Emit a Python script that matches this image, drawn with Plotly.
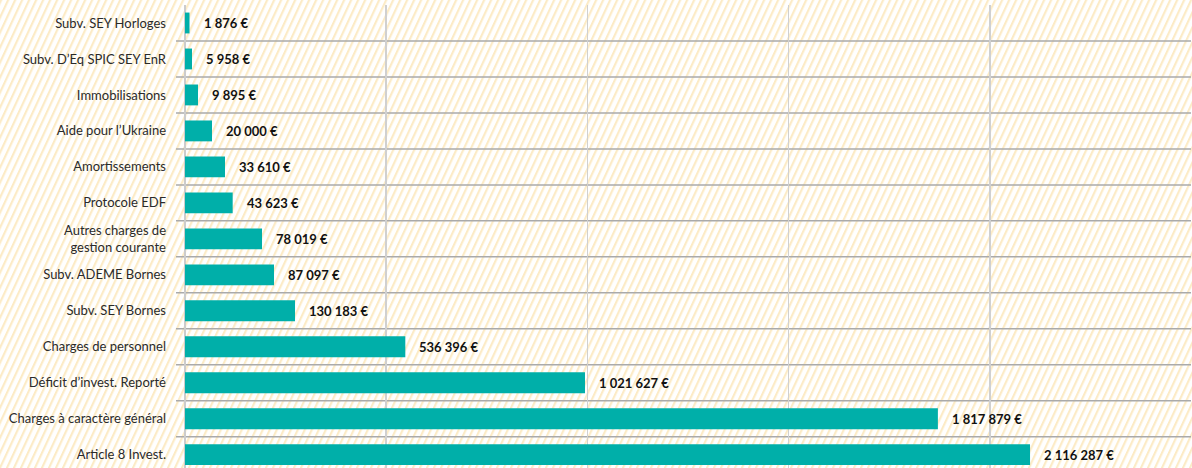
import base64
import plotly.graph_objects as go

# ---- data (top row first) ----
categories = [
    "Subv. SEY Horloges",
    "Subv. D’Eq SPIC SEY EnR",
    "Immobilisations",
    "Aide pour l’Ukraine",
    "Amortissements",
    "Protocole EDF",
    "Autres charges de<br>gestion courante",
    "Subv. ADEME Bornes",
    "Subv. SEY Bornes",
    "Charges de personnel",
    "Déficit d’invest. Reporté",
    "Charges à caractère général",
    "Article 8 Invest.",
]
# amounts printed next to each bar
amounts = [1876, 5958, 9895, 20000, 33610, 43623, 78019, 87097,
           130183, 536396, 1021627, 1817879, 2116287]
# bar lengths as drawn in the picture (read on the 0–2.5 M grid)
bar_lengths = [11200, 17400, 32300, 67100, 99400, 118500, 191400, 221200,
               273400, 547500, 994000, 1871000, 2100000]
x_ticks = [0, 500000, 1000000, 1500000, 2000000, 2500000]

W, H = 1192, 468
ML, MR, MT, MB = 185, 1, 5, 0
PW, PH = W - ML - MR, H - MT - MB

BAR = "#00afa9"
FONT = "Lato"


def fmt(v):
    return f"{v:,}".replace(",", " ") + " €"


ypos = list(range(len(categories)))

fig = go.Figure()
fig.add_trace(go.Bar(
    x=bar_lengths, y=ypos, orientation="h",
    marker=dict(color=BAR, line=dict(width=0)),
    width=0.58, hoverinfo="skip",
))

for yy, xv, a in zip(ypos, bar_lengths, amounts):
    fig.add_annotation(
        x=xv, y=yy, xref="x", yref="y", text=fmt(a),
        showarrow=False, xanchor="left", yanchor="middle", xshift=12,
        font=dict(family=FONT, size=13, color="#111111", weight="bold"),
    )

# row separators
for i in range(len(categories) - 1):
    fig.add_shape(type="line", xref="paper", yref="y",
                  x0=(176 - ML) / PW, x1=1, y0=i + 0.5, y1=i + 0.5,
                  line=dict(color="#aaaaaa", width=1.5), layer="below")

# hatched background
svg = (
    f"<svg xmlns='http://www.w3.org/2000/svg' width='{W}' height='{H}' "
    f"viewBox='0 0 {W} {H}' preserveAspectRatio='none'>"
    "<defs><pattern id='h' width='7' height='7' patternUnits='userSpaceOnUse' "
    "patternTransform='skewX(-25)'>"
    "<rect x='0' y='0' width='2.4' height='7' fill='#fcebc6'/></pattern></defs>"
    "<rect width='100%' height='100%' fill='#ffffff'/>"
    "<rect width='100%' height='100%' fill='url(#h)'/></svg>"
)
src = "data:image/svg+xml;base64," + base64.b64encode(svg.encode()).decode()
fig.add_layout_image(dict(
    source=src, xref="paper", yref="paper",
    x=-ML / PW, y=1 + MT / PH, sizex=W / PW, sizey=H / PH,
    xanchor="left", yanchor="top", sizing="stretch", layer="below",
))

fig.update_layout(
    width=W, height=H,
    margin=dict(l=ML, r=MR, t=MT, b=MB, pad=0),
    paper_bgcolor="rgba(0,0,0,0)", plot_bgcolor="rgba(0,0,0,0)",
    showlegend=False,
    font=dict(family=FONT, color="#2a2a2a", size=13),
    xaxis=dict(range=[0, 2500000], tickvals=x_ticks, showticklabels=False,
               showgrid=True, gridcolor="#d0d0d0", gridwidth=1.5,
               zeroline=True, zerolinecolor="#cccccc", zerolinewidth=1.5,
               showline=False, fixedrange=True),
    yaxis=dict(range=[12.37, -0.5], tickvals=ypos, ticktext=categories,
               showgrid=False, zeroline=False, showline=False, ticks="",
               ticklabelstandoff=18,
               tickfont=dict(family=FONT, size=13, color="#2a2a2a"),
               fixedrange=True),
)

fig.write_html(
    "out.html",
    config={"displayModeBar": False, "staticPlot": True},
    post_script="document.body.style.margin='0';document.body.style.overflow='hidden';",
)
